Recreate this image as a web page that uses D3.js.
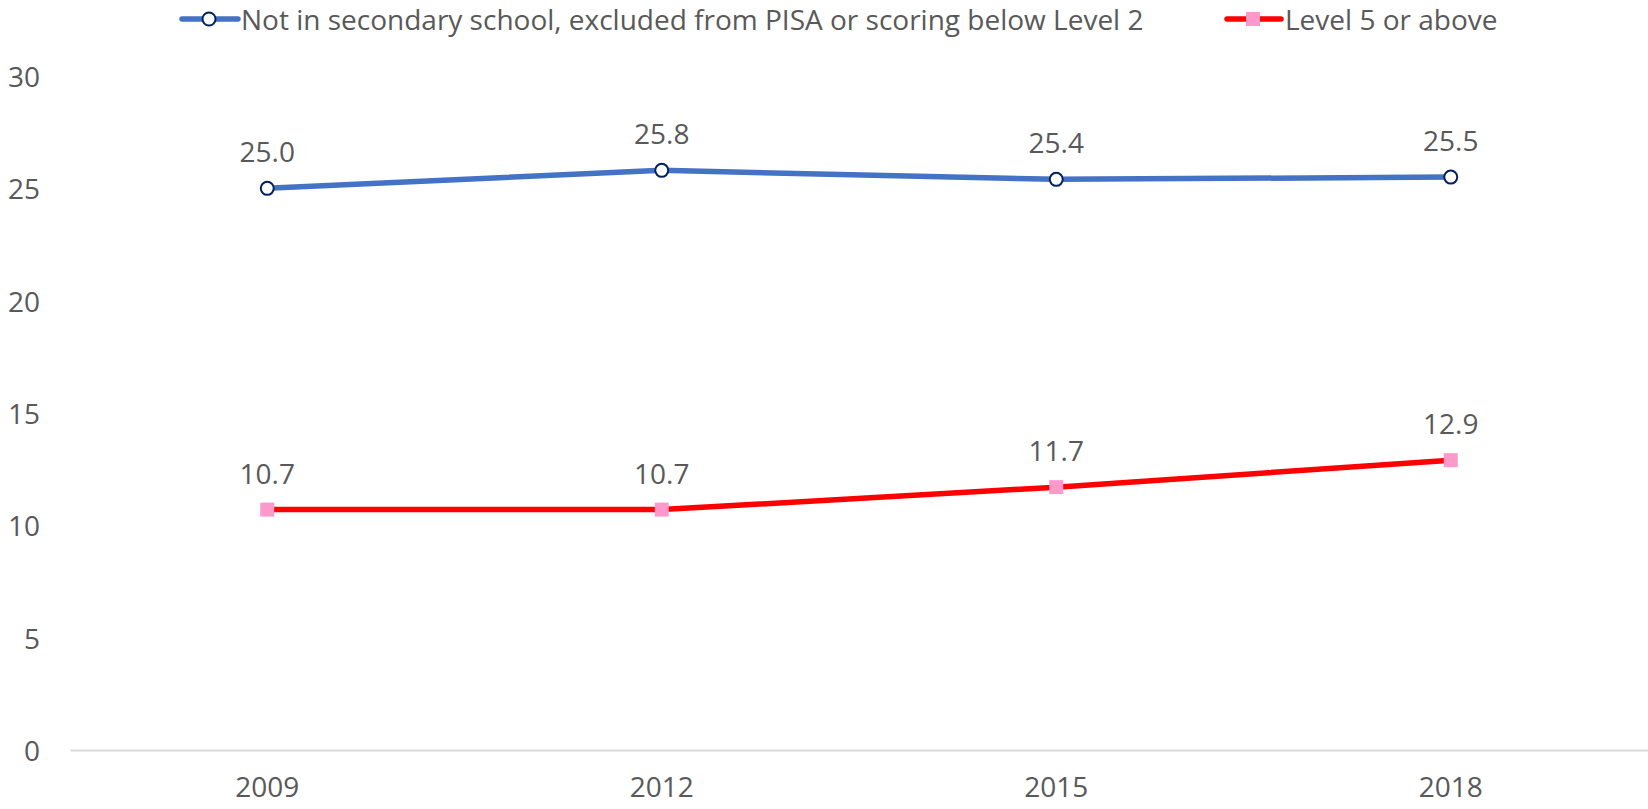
<!DOCTYPE html>
<html>
<head>
<meta charset="utf-8">
<script src="https://cdn.jsdelivr.net/npm/d3@7"></script>
<style>
  body { margin: 0; background: #fff; }
  svg text { font-family: "Open Sans", sans-serif; fill: #595959; }
</style>
</head>
<body>
<svg id="chart" width="1648" height="809"></svg>
<script>
const years = ["2009", "2012", "2015", "2018"];
const lowScorers = [25.0, 25.8, 25.4, 25.5];
const topScorers = [10.7, 10.7, 11.7, 12.9];
const yTicks = [0, 5, 10, 15, 20, 25, 30];
const seriesNames = ["Not in secondary school, excluded from PISA or scoring below Level 2", "Level 5 or above"];

const svg = d3.select("#chart");
const fontSize = 28;

const x = d3.scaleBand().domain(years).range([70, 1648]);
const y = d3.scaleLinear().domain([0, 30]).range([750, 76]);

// y tick labels (no axis line, no gridlines)
svg.append("g")
  .selectAll("text")
  .data(yTicks)
  .join("text")
  .attr("x", 40)
  .attr("y", (d) => y(d))
  .attr("text-anchor", "end")
  .attr("dominant-baseline", "central")
  .style("font-size", fontSize + "px")
  .text((d) => d);

// x axis
const xAxis = svg.append("g")
  .attr("transform", "translate(0," + y(0) + ")")
  .call(d3.axisBottom(x).tickSize(0).tickPadding(27));
xAxis.select(".domain").attr("stroke", "#d9d9d9").attr("stroke-width", 2);
xAxis.selectAll("text")
  .attr("fill", "#595959")
  .style("font-family", "\"Open Sans\", sans-serif")
  .style("font-size", fontSize + "px");

const cx = (d, i) => x(years[i]) + x.bandwidth() / 2;
const line = d3.line().x((d, i) => cx(d, i)).y((d) => y(d));

// blue series
svg.append("path")
  .datum(lowScorers)
  .attr("d", line)
  .attr("fill", "none")
  .attr("stroke", "#4472C4")
  .attr("stroke-width", 5.5);
svg.append("g")
  .selectAll("circle")
  .data(lowScorers)
  .join("circle")
  .attr("cx", cx)
  .attr("cy", (d) => y(d))
  .attr("r", 6.5)
  .attr("fill", "#fff")
  .attr("stroke", "#002060")
  .attr("stroke-width", 2);

// red series
svg.append("path")
  .datum(topScorers)
  .attr("d", line)
  .attr("fill", "none")
  .attr("stroke", "#FF0000")
  .attr("stroke-width", 5.5);
svg.append("g")
  .selectAll("rect")
  .data(topScorers)
  .join("rect")
  .attr("x", (d, i) => cx(d, i) - 7)
  .attr("y", (d) => y(d) - 7)
  .attr("width", 14)
  .attr("height", 14)
  .attr("fill", "#FF99CC");

// data labels
[lowScorers, topScorers].forEach((s) => {
  svg.append("g")
    .selectAll("text")
    .data(s)
    .join("text")
    .attr("x", cx)
    .attr("y", (d) => y(d) - 37)
    .attr("text-anchor", "middle")
    .attr("dominant-baseline", "central")
    .style("font-size", fontSize + "px")
    .text((d) => d.toFixed(1));
});

// legend
const legend = svg.append("g").attr("transform", "translate(0,19)");
legend.append("line").attr("x1", 182).attr("x2", 238)
  .attr("stroke", "#4472C4").attr("stroke-width", 5.5).attr("stroke-linecap", "round");
legend.append("circle").attr("cx", 209).attr("r", 6.5)
  .attr("fill", "#fff").attr("stroke", "#002060").attr("stroke-width", 2);
legend.append("text").attr("x", 241).attr("dominant-baseline", "central")
  .style("font-size", fontSize + "px").text(seriesNames[0]);

legend.append("line").attr("x1", 1227).attr("x2", 1281)
  .attr("stroke", "#FF0000").attr("stroke-width", 5.5).attr("stroke-linecap", "round");
legend.append("rect").attr("x", 1246).attr("y", -7).attr("width", 14).attr("height", 14)
  .attr("fill", "#FF99CC");
legend.append("text").attr("x", 1285).attr("dominant-baseline", "central")
  .style("font-size", fontSize + "px").text(seriesNames[1]);
</script>
</body>
</html>
